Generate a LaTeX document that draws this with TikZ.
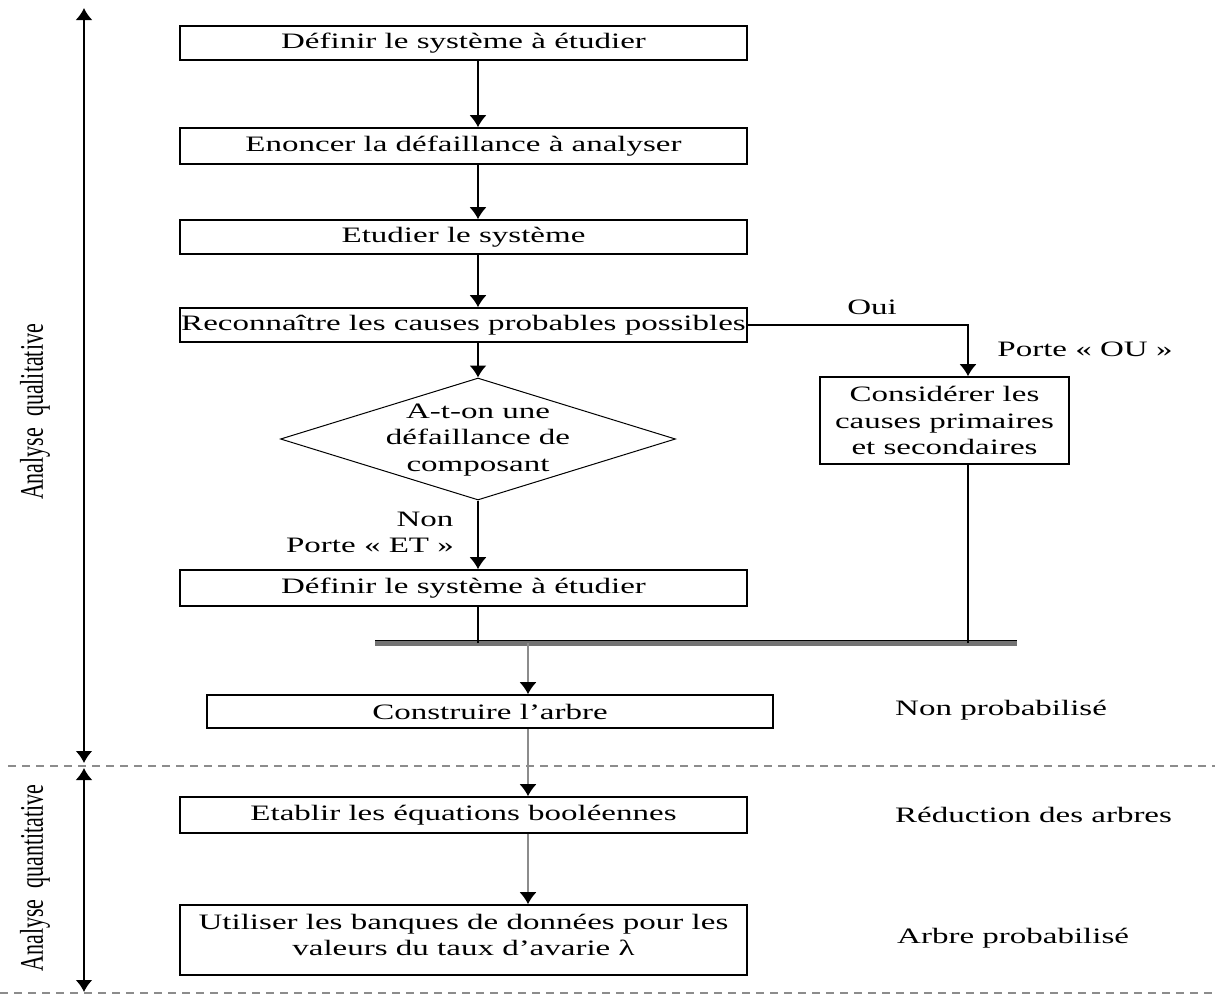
\documentclass[tikz,border=0pt]{standalone}
\usepackage{fontspec}
\setmainfont{Liberation Serif}[FakeStretch=1.5]
\newfontfamily\sidefont{Liberation Serif}
\usetikzlibrary{shapes.geometric,arrows.meta}
\begin{document}
\begin{tikzpicture}[x=1pt,y=-1pt,
  font=\fontsize{22}{26.7}\selectfont,
  stepbox/.style={draw, line width=1.6pt, inner sep=0pt, minimum width=567pt, align=center},
  decision/.style={draw, diamond, line width=1pt, inner sep=0pt, minimum width=395pt, minimum height=122pt},
  flow/.style={line width=1.4pt, -{Latex[length=12pt,width=17pt,color=black]}},
  flowgray/.style={flow, draw=black!45},
  link/.style={line width=1.4pt},
  span/.style={line width=2pt, {Latex[length=12pt,width=17pt]}-{Latex[length=12pt,width=17pt]}},
  sep/.style={draw=black!45, line width=1.2pt, dash pattern=on 8pt off 6pt},
  note/.style={inner sep=0pt}]
\useasboundingbox (0,0) rectangle (1215,994);

% column positions of the vertical connectors
\coordinate (mx) at (478,0);
\coordinate (gx) at (528,0);
\coordinate (ox) at (968,0);

% steps of the qualitative analysis
\node[stepbox, minimum height=34pt] (b1) at (463.5,43) {Définir le système à étudier};
\node[stepbox, minimum height=36pt] (b2) at (463.5,146) {Enoncer la défaillance à analyser};
\node[stepbox, minimum height=34pt] (b3) at (463.5,237) {Etudier le système};
\node[stepbox, minimum height=34pt] (b4) at (463.5,325) {Reconnaître les causes probables possibles};
\node[decision] (d) at (478,439) {};
\node[note, align=center] (dt) at (478,440) {A-t-on une\\défaillance de\\composant};
\node[stepbox, minimum height=36pt] (b5) at (463.5,588) {Définir le système à étudier};
\node[draw, line width=1.6pt, inner sep=0pt, minimum width=249pt, minimum height=87pt, align=center]
  (rb) at (944.5,420.5) {Considérer les\\causes primaires\\et secondaires};

% merge bar
\coordinate (barL) at (375,643);
\coordinate (barR) at (1017,643);
\draw[line width=5pt, black!55] (barL) -- (barR);
\draw[line width=1.2pt] ([yshift=2.2pt]barL) -- ([yshift=2.2pt]barR);

% steps after the merge
\node[stepbox, minimum width=566pt, minimum height=33pt] (c) at (490,711.5) {Construire l’arbre};
\node[stepbox, minimum height=36pt] (e) at (463.5,815) {Etablir les équations booléennes};
\node[stepbox, minimum height=70pt] (u) at (463.5,940) {};
\node[note, align=center] (ut) at (463.5,935) {Utiliser les banques de données pour les\\valeurs du taux d’avarie λ};

% connectors
\draw[flow] (b1.south -| mx) -- (b2.north -| mx);
\draw[flow] (b2.south -| mx) -- (b3.north -| mx);
\draw[flow] (b3.south -| mx) -- (b4.north -| mx);
\draw[flow] (b4.south -| mx) -- (d.north);
\draw[flow] (d.south) -- (b5.north -| mx);
\draw[flow] (b4.east) -| (rb.north -| ox);
\draw[link] (b5.south -| mx) -- (barL -| mx);
\draw[link] (rb.south -| ox) -- (barL -| ox);
\draw[flowgray] (barL -| gx) -- (c.north -| gx);
\draw[flowgray] (c.south -| gx) -- (e.north -| gx);
\draw[flowgray] (e.south -| gx) -- (u.north -| gx);

% branch labels
\node[note] (oui) at (872,307) {Oui};
\node[note] (pou) at (1085,349) {Porte « OU »};
\node[note] (non) at (425,519) {Non};
\node[note] (pet) at (370,545) {Porte « ET »};

% results on the right
\node[note, anchor=west] (r1) at (895,710) {Non probabilisé};
\node[note, anchor=west] (r2) at (895,815) {Réduction des arbres};
\node[note, anchor=west] (r3) at (897,938) {Arbre probabilisé};

% phase separators and spans
\path[sep] (8,766) -- (1215,766);
\path[sep] (0,993) -- (1215,993);
\coordinate (qt) at (84,8);
\coordinate (qb) at (84,763);
\coordinate (nt) at (84,768);
\coordinate (nb) at (84,992);
\draw[span] (qt) -- (qb);
\draw[span] (nt) -- (nb);
\node[note, rotate=90] (ql) at (35,412) {\sidefont\scalebox{1}[1.5]{Analyse\ \ qualitative}};
\node[note, rotate=90] (nl) at (35,878) {\sidefont\scalebox{1}[1.5]{Analyse\ \ quantitative}};
\end{tikzpicture}
\end{document}
